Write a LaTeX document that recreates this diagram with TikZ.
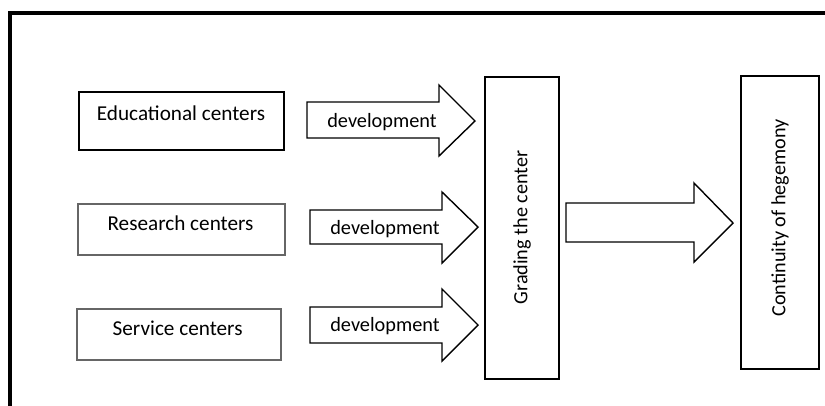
\documentclass[tikz,border=0pt]{standalone}
\usepackage{fontspec}
\setmainfont{Carlito}
\begin{document}
\begin{tikzpicture}[x=1pt,y=-1pt,
  boxblack/.style={draw=black,line width=1.4pt},
  boxgrey/.style={draw=black!60,line width=1.4pt},
  lbl/.style={font=\fontsize{21.2}{24}\selectfont,inner sep=0pt},
  arrlbl/.style={font=\fontsize{20.3}{24}\selectfont,inner sep=0pt},
  rotlbl/.style={font=\fontsize{20.2}{24}\selectfont,inner sep=0pt,rotate=90},
  blockarrow/.style={draw=black,line width=1.4pt,fill=white,line join=miter}]
\useasboundingbox (0,0) rectangle (825,405);
\begin{scope}
\clip (0,0) rectangle (825,405);
\draw[line width=4pt] (10,12.5) rectangle (840,420);
\end{scope}
% left boxes
\draw[boxblack] (79,92) rectangle (284,150);
\node[lbl] (edu) at (181,113) {Educational centers};
\draw[boxgrey] (78,204) rectangle (285,255);
\node[lbl] (res) at (180.5,223) {Research centers};
\draw[boxgrey] (77,309) rectangle (281,360);
\node[lbl] (ser) at (177.6,328) {Service centers};
% block arrows
\draw[blockarrow] (307,102) -- (439,102) -- (439,85) -- (475,121) -- (439,156) -- (439,138) -- (307,138) -- cycle;
\node[arrlbl] (d1) at (382,122) {development};
\draw[blockarrow] (310,210) -- (442,210) -- (442,192) -- (478,227) -- (442,263) -- (442,244) -- (310,244) -- cycle;
\node[arrlbl] (d2) at (385,229) {development};
\draw[blockarrow] (310,307) -- (442,307) -- (442,289) -- (478,325) -- (442,361) -- (442,343) -- (310,343) -- cycle;
\node[arrlbl] (d3) at (385,326) {development};
% grading box
\draw[boxblack] (485,77) rectangle (559,379);
\node[rotlbl] (grad) at (522,227.5) {Grading the center};
% big arrow
\draw[blockarrow] (566,203) -- (694,203) -- (694,183) -- (733,223) -- (694,262) -- (694,242) -- (566,242) -- cycle;
% continuity box
\draw[boxblack] (741,76) rectangle (819,369);
\node[rotlbl] (cont) at (780,218) {Continuity of hegemony};
\end{tikzpicture}
\end{document}
